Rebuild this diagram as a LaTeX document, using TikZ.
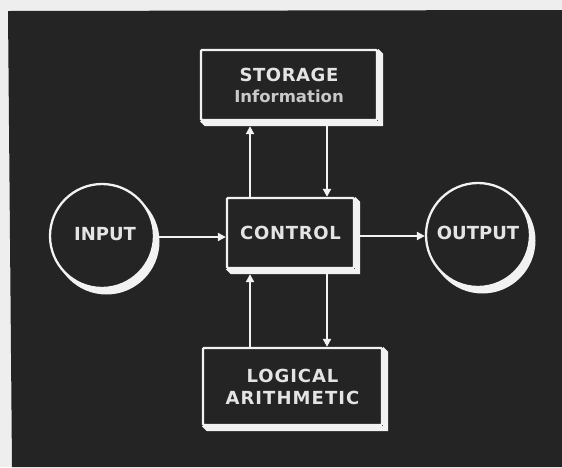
\documentclass[tikz,border=0pt]{standalone}
\usepackage{fontspec}
\setmainfont{DejaVu Sans}
\usetikzlibrary{arrows.meta,calc,backgrounds}
\definecolor{bg}{HTML}{242424}
\definecolor{paper}{HTML}{EEEEEE}
\definecolor{fg}{HTML}{F2F2F2}
\definecolor{txt}{HTML}{E4E4E4}
\newcommand\labfont{\bfseries\fontsize{18}{21}\selectfont}
\begin{document}
\begin{tikzpicture}[x=1pt,y=-1pt,
  lblfont/.style={font=\labfont},
  box/.style={draw=fg, line width=2.3pt, fill=bg, rectangle, inner sep=0pt, text=txt, align=center, rounded corners=1pt, lblfont},
  circ/.style={draw=fg, line width=2.3pt, fill=bg, circle, inner sep=0pt, minimum size=104pt, text=txt, lblfont},
  conn/.style={draw=fg, line width=2.2pt, -{Triangle[width=8pt,length=8pt]}}
]
\useasboundingbox (0,0) rectangle (562,467);
\begin{pgfonlayer}{background}
  \fill[paper] (0,0) rectangle (562,467);
  \fill[bg] (8,11) -- (562,10) -- (562,467) -- (12,467) -- cycle;
\end{pgfonlayer}

% nodes
\node[box, minimum width=176pt, minimum height=70pt] (st) at (289,85)
  {\addfontfeature{LetterSpace=3}STORAGE\\[0pt]
   {\color{txt!88!black}\fontsize{16.5}{18}\selectfont\bfseries Information}};
\node[box, minimum width=127pt, minimum height=70pt] (ctl) at (290.5,233)
  {\addfontfeature{LetterSpace=4}CONTROL};
\node[box, minimum width=179pt, minimum height=77pt] (lg) at (292.5,386.5)
  {\addfontfeature{LetterSpace=5}LOGICAL\\[1pt]\addfontfeature{LetterSpace=6}ARITHMETIC};
\node[circ] (in) at (102,236) {\hspace{6pt}\raisebox{4pt}{INPUT}};
\node[circ] (out) at (478,235) {\raisebox{4pt}{OUTPUT}};

% shadows / extruded edges
\begin{pgfonlayer}{background}
  \foreach \n/\d in {st/5, ctl/5, lg/5}{
    \fill[fg] (\n.north east) -- ++(\d,\d) -- ($(\n.south east)+(\d,\d)$)
      -- ($(\n.south west)+(\d,\d)$) -- (\n.south west) -- (\n.south east) -- cycle;
  }
  \fill[fg] ($(in)+(4.5,5.5)$) circle (53pt);
  \fill[fg] ($(out)+(4.5,5.5)$) circle (53pt);
\end{pgfonlayer}

% connectors
\coordinate (xa) at (250,0);
\coordinate (xb) at (327,0);
\draw[conn] (in.east |- 0,237) -- (ctl.west |- 0,237);
\draw[conn] (ctl.east |- 0,236) -- (out.west |- 0,236);
\draw[conn] (xa |- ctl.north) -- ([yshift=-5pt]xa |- st.south);
\draw[conn] ([yshift=-5pt]xb |- st.south) -- (xb |- ctl.north);
\draw[conn] (xa |- lg.north) -- ([yshift=-5pt]xa |- ctl.south);
\draw[conn] ([yshift=-5pt]xb |- ctl.south) -- (xb |- lg.north);
\end{tikzpicture}
\end{document}
